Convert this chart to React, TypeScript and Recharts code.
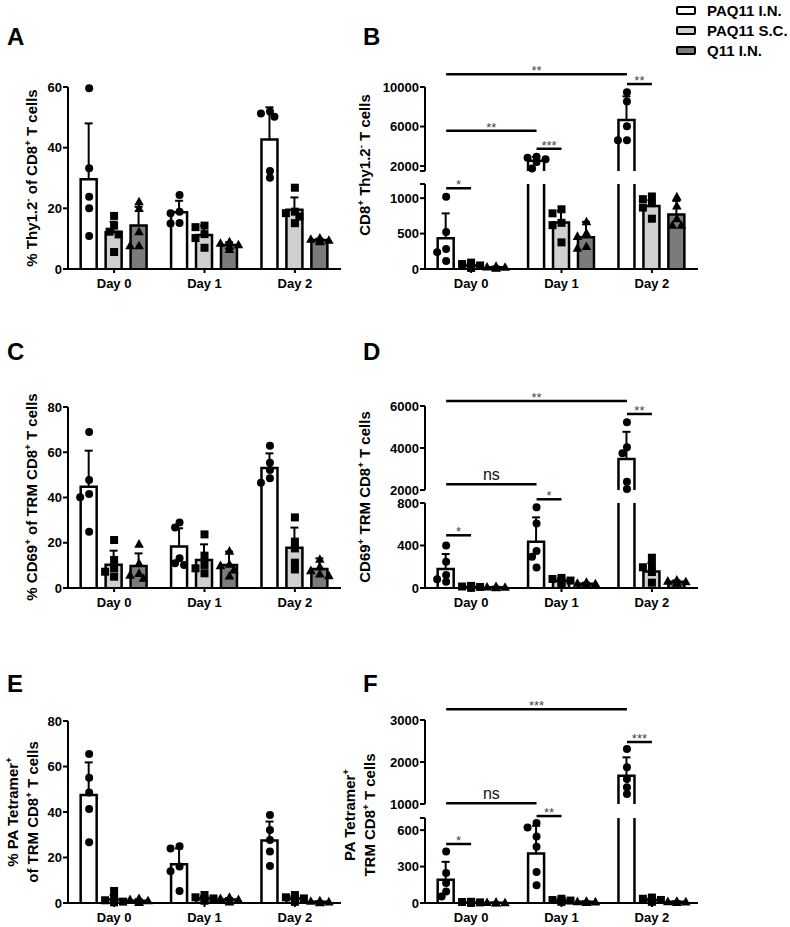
import React from 'react';
import { ComposedChart, Bar, Scatter, XAxis, YAxis, ReferenceLine } from 'recharts';

const FONT = '"Liberation Sans", Arial, Helvetica, sans-serif';

const DAYS = ['Day 0', 'Day 1', 'Day 2'];
const GROUPS = ['PAQ11 I.N.', 'PAQ11 S.C.', 'Q11 I.N.'];
const FILLS = ['#ffffff', '#d0d0d0', '#7b7b7b'];

// means / SD as [day][group], mice as [day][group][mouse]
const A_MEAN = [[29.6, 12.1, 14.3], [18.7, 11.2, 7.9], [42.7, 19.5, 9.6]];
const A_SD = [[18.4, 3.5, 6.2], [3.8, 3.1, 0.9], [10.6, 4.1, 0.4]];
const A_PTS = [
  [[59.6, 33.2, 23.8, 20.0, 10.9], [17.5, 14.3, 12.3, 11.4, 5.6], [22.2, 20.0, 12.3, 7.7, 7.7]],
  [[24.4, 18.9, 18.4, 15.2, 15.0], [14.3, 13.8, 11.5, 10.2, 7.0], [9.0, 8.5, 8.0, 7.5, 6.5]],
  [[51.9, 51.3, 50.2, 32.3, 30.1], [26.8, 18.9, 18.4, 17.3, 15.1], [10.2, 9.8, 9.5, 9.3, 9.0]],
];

const B_MEAN = [[435, 50, 25], [2540, 655, 450], [6650, 890, 771]];
const B_SD = [[350, 25, 10], [380, 165, 215], [2400, 80, 190]];
const B_PTS = [
  [[1019, 524, 281, 238, 114], [90, 70, 50, 30, 15], [40, 30, 25, 18, 12]],
  [[2950, 2850, 2700, 2400, 1750], [843, 786, 652, 619, 376], [667, 510, 462, 319, 295]],
  [[9467, 8533, 6033, 4600, 4600], [1024, 986, 929, 867, 710], [1019, 890, 710, 619, 619]],
];

const C_MEAN = [[44.8, 10.3, 9.7], [18.3, 12.4, 10.2], [53.0, 17.8, 8.4]];
const C_SD = [[15.9, 6.2, 5.6], [8.1, 6.9, 5.9], [6.5, 8.9, 4.7]];
const C_PTS = [
  [[68.9, 47.7, 41.5, 40.1, 24.9], [21.2, 12.4, 8.7, 7.2, 5.0], [19.4, 10.9, 6.5, 5.7, 4.3]],
  [[28.9, 26.7, 13.1, 10.9, 10.2], [23.7, 14.3, 10.2, 8.7, 6.5], [16.3, 10.5, 9.9, 8.0, 5.3]],
  [[62.9, 55.4, 52.1, 48.5, 46.5], [31.2, 20.5, 17.5, 11.2, 8.2], [12.7, 9.4, 7.7, 6.2, 5.5]],
];

const D_MEAN = [[179, 10, 8], [436, 69, 40], [3480, 155, 60]];
const D_SD = [[141, 6, 5], [229, 22, 10], [1290, 80, 12]];
const D_PTS = [
  [[401, 248, 122, 82, 60], [20, 14, 10, 5, 3], [15, 10, 8, 5, 3]],
  [[759, 608, 348, 295, 194], [95, 85, 70, 55, 40], [55, 45, 40, 35, 25]],
  [[5222, 4032, 3746, 2397, 2048], [285, 215, 195, 150, 50], [75, 65, 60, 50, 45]],
];

const E_MEAN = [[47.5, 1.5, 1.0], [17.0, 2.0, 1.5], [27.5, 2.0, 0.5]];
const E_SD = [[14.3, 2.0, 0.7], [7.0, 1.0, 0.7], [8.3, 1.0, 0.3]];
const E_PTS = [
  [[65.5, 55.1, 48.6, 41.3, 26.7], [5.3, 2.3, 1.2, 0.6, 0.3], [2.0, 1.5, 1.0, 0.5, 0.3]],
  [[25.0, 24.0, 16.0, 14.0, 5.3], [3.5, 2.5, 2.0, 1.5, 1.0], [2.5, 2.0, 1.5, 1.0, 0.5]],
  [[38.7, 32.1, 27.7, 22.6, 16.3], [3.5, 2.5, 2.0, 1.5, 0.5], [1.0, 0.8, 0.5, 0.3, 0.2]],
];

const F_MEAN = [[192, 5, 3], [408, 20, 10], [1675, 25, 10]];
const F_SD = [[147, 3, 2], [228, 10, 5], [436, 12, 5]];
const F_PTS = [
  [[425, 247, 164, 94, 53], [10, 8, 5, 3, 2], [6, 4, 3, 2, 1]],
  [[658, 622, 547, 464, 256, 147], [35, 25, 20, 15, 10], [15, 12, 10, 8, 5]],
  [[2310, 1873, 1595, 1397, 1238], [45, 35, 25, 15, 10], [15, 12, 10, 8, 5]],
];

// significance bars: [fromDay, fromGroup, toDay, toGroup, y, text]
const B_SIG_TOP = [[0, 0, 2, 0, 11300, '**'], [2, 0, 2, 1, 10300, '**'], [0, 0, 1, 0, 5580, '**'], [1, 0, 1, 1, 3750, '***']];
const B_SIG_LOW = [[0, 0, 0, 1, 1140, '*']];
const D_SIG_TOP = [[0, 0, 2, 0, 6240, '**'], [2, 0, 2, 1, 5620, '**'], [0, 0, 1, 0, 2270, 'ns']];
const D_SIG_LOW = [[1, 0, 1, 1, 835, '*'], [0, 0, 0, 1, 496, '*']];
const F_SIG_TOP = [[0, 0, 2, 0, 3255, '***'], [2, 0, 2, 1, 2476, '***'], [0, 0, 1, 0, 1017, 'ns']];
const F_SIG_LOW = [[1, 0, 1, 1, 716, '**'], [0, 0, 0, 1, 486, '*']];

// layout
const Y_W = 60;
const PLOT_W = 273;
const MR = 10;
const MT = 40;
const MB = 12;
const XH = 30;
const X_DOMAIN = [-0.51, 2.51];
const SUB = 0.276;
const PX_PER_X = PLOT_W / (X_DOMAIN[1] - X_DOMAIN[0]);
const xPos = (d: number, g: number) => d + (g - 1) * SUB;

const tickStyle = { fontSize: 13, fontWeight: 700, fill: '#000', fontFamily: FONT };
const axisStroke = { stroke: '#000', strokeWidth: 2 };

const ok = (...v: any[]) => v.every((n) => typeof n === 'number' && Number.isFinite(n));

function barRows(mean: number[][], sd: number[][]) {
  const rows: any[] = [];
  mean.forEach((m, d) => m.forEach((v, g) => rows.push({ x: xPos(d, g), g, mean: v, sd: sd[d][g] })));
  return rows;
}

// simple beeswarm so dots that overlap get pushed sideways
function dotRows(pts: number[][][], g: number, lo: number, hi: number, pxPerY: number) {
  const out: any[] = [];
  pts.forEach((day, d) => {
    const vals = day[g].filter((v) => v >= lo && v <= hi).sort((a, b) => b - a);
    const placed: number[][] = [];
    vals.forEach((v) => {
      const py = v * pxPerY;
      let px = 0;
      for (const k of [0, -1, 1, -2, 2]) {
        if (placed.every((p) => Math.hypot(p[0] - k * 4.5, p[1] - py) >= 6.5)) {
          px = k * 4.5;
          break;
        }
      }
      placed.push([px, py]);
      out.push({ x: xPos(d, g) + px / PX_PER_X, v });
    });
  });
  return out;
}

// bar outline without a bottom edge; no top edge either when the bar runs off the segment
const barShape = (hi: number) => (p: any) => {
  const { x, y, width, height, payload } = p;
  if (!ok(x, y, width, height) || height <= 0) return <g />;
  const b = y + height;
  const open = payload.mean > hi;
  const d = open
    ? `M${x},${b}V${y}M${x + width},${y}V${b}`
    : `M${x},${b}V${y}H${x + width}V${b}`;
  return (
    <g>
      <rect x={x} y={y} width={width} height={height} fill={FILLS[payload.g]} />
      <path d={d} fill="none" stroke="#000" strokeWidth={2.5} />
    </g>
  );
};

const ErrShape = (p: any) => {
  const { x, y, width, height } = p;
  if (!ok(x, y, width, height) || height <= 0) return <g />;
  const cx = x + width / 2;
  return (
    <g stroke="#000" strokeWidth={2}>
      <line x1={cx} x2={cx} y1={y + height} y2={y} />
      <line x1={cx - 4} x2={cx + 4} y1={y} y2={y} />
    </g>
  );
};

const dotShape = (g: number) => (p: any) => {
  const { cx, cy } = p;
  if (!ok(cx, cy)) return <g />;
  if (g === 0) return <circle cx={cx} cy={cy} r={4} fill="#000" />;
  if (g === 1) return <rect x={cx - 4} y={cy - 4} width={8} height={8} fill="#000" />;
  return <path d={`M${cx},${cy - 5}L${cx + 4.8},${cy + 3.6}L${cx - 4.8},${cy + 3.6}Z`} fill="#000" />;
};

interface Seg {
  lo: number;
  hi: number;
  top: number;
  bottom: number;
  ticks: number[];
  labels?: string[];
  showX?: boolean;
  sig?: any[];
}

interface PanelProps {
  axisX: number;
  segs: Seg[];
  mean: number[][];
  sd: number[][];
  pts: number[][][];
}

const Segment: React.FC<{ axisX: number; seg: Seg; rows: any[]; pts: number[][][] }> = ({ axisX, seg, rows, pts }) => {
  const plotH = seg.bottom - seg.top;
  const height = MT + plotH + (seg.showX ? XH : 0) + MB;
  const pxPerY = plotH / (seg.hi - seg.lo);
  const fmt = (v: number) => {
    const i = seg.ticks.indexOf(v);
    return seg.labels ? seg.labels[i] : String(v);
  };
  return (
    <div style={{ position: 'absolute', left: axisX - Y_W, top: seg.top - MT }}>
      <ComposedChart
        width={Y_W + PLOT_W + MR}
        height={height}
        data={rows}
        margin={{ top: MT, right: MR, bottom: MB, left: 0 }}
        style={{ fontFamily: FONT }}
      >
        <XAxis
          type="number"
          dataKey="x"
          domain={X_DOMAIN}
          ticks={[0, 1, 2]}
          interval={0}
          tickFormatter={(v: number) => DAYS[v]}
          hide={!seg.showX}
          height={XH}
          tickSize={4}
          tickMargin={6}
          tick={tickStyle}
          axisLine={axisStroke}
          tickLine={axisStroke}
        />
        <XAxis xAxisId="dx" type="number" dataKey="x" domain={X_DOMAIN} hide />
        <YAxis
          type="number"
          domain={[seg.lo, seg.hi]}
          ticks={seg.ticks}
          interval={0}
          allowDataOverflow
          tickFormatter={fmt}
          width={Y_W}
          tickSize={5}
          tickMargin={1}
          tick={tickStyle}
          axisLine={axisStroke}
          tickLine={axisStroke}
        />
        <YAxis yAxisId="d" type="number" domain={[seg.lo, seg.hi]} hide />
        <Bar dataKey="mean" stackId="s" barSize={16} isAnimationActive={false} shape={barShape(seg.hi)} />
        <Bar dataKey="sd" stackId="s" barSize={16} isAnimationActive={false} shape={ErrShape} />
        {[0, 1, 2].map((g) => (
          <Scatter
            key={g}
            xAxisId="dx"
            yAxisId="d"
            data={dotRows(pts, g, seg.lo, seg.hi, pxPerY)}
            dataKey="v"
            shape={dotShape(g)}
            isAnimationActive={false}
          />
        ))}
        {(seg.sig || []).map((s, i) => {
          const ns = s[5] === 'ns';
          return (
            <ReferenceLine
              key={i}
              segment={[{ x: xPos(s[0], s[1]), y: s[4] }, { x: xPos(s[2], s[3]), y: s[4] }]}
              stroke="#000"
              strokeWidth={2.5}
              ifOverflow="visible"
              label={{
                value: s[5],
                position: 'top',
                offset: ns ? 4 : -1,
                fontSize: ns ? 16 : 13,
                fill: ns ? '#111' : '#444',
                fontFamily: FONT,
              }}
            />
          );
        })}
      </ComposedChart>
    </div>
  );
};

const Panel: React.FC<PanelProps> = ({ axisX, segs, mean, sd, pts }) => {
  const rows = barRows(mean, sd);
  return (
    <>
      {segs.map((seg, i) => (
        <Segment key={i} axisX={axisX} seg={seg} rows={rows} pts={pts} />
      ))}
    </>
  );
};

const Letter: React.FC<{ x: number; y: number; t: string }> = ({ x, y, t }) => (
  <div style={{ position: 'absolute', left: x, top: y, font: `bold 24px ${FONT}`, lineHeight: '24px' }}>{t}</div>
);

const AxisTitle: React.FC<{ cx: number; cy: number; children: React.ReactNode }> = ({ cx, cy, children }) => (
  <div
    style={{
      position: 'absolute',
      left: cx,
      top: cy,
      transform: 'translate(-50%, -50%) rotate(-90deg)',
      whiteSpace: 'nowrap',
      textAlign: 'center',
      font: `bold 15px ${FONT}`,
      lineHeight: '20px',
    }}
  >
    {children}
  </div>
);

const Sup: React.FC<{ children: React.ReactNode }> = ({ children }) => (
  <sup style={{ fontSize: '0.65em', lineHeight: 0 }}>{children}</sup>
);

const Key = () => (
  <div style={{ position: 'absolute', left: 676, top: 0 }}>
    {GROUPS.map((g, i) => (
      <div
        key={g}
        style={{ position: 'absolute', left: 0, top: 10 + i * 20 - 6, height: 12, display: 'flex', alignItems: 'center', whiteSpace: 'nowrap' }}
      >
        <span style={{ display: 'inline-block', width: 16, height: 5, border: '2px solid #000', borderRadius: 2, background: FILLS[i] }} />
        <span style={{ marginLeft: 11, font: `bold 15px ${FONT}` }}>{g}</span>
      </div>
    ))}
  </div>
);

const A_SEGS: Seg[] = [{ lo: 0, hi: 60, top: 87, bottom: 269, ticks: [0, 20, 40, 60], showX: true }];
const B_SEGS: Seg[] = [
  { lo: 1500, hi: 10000, top: 87, bottom: 171, ticks: [1500, 2000, 6000, 10000], labels: ['', '2000', '6000', '10000'], sig: B_SIG_TOP },
  { lo: 0, hi: 1200, top: 184, bottom: 269, ticks: [0, 500, 1000, 1200], labels: ['0', '500', '1000', ''], showX: true, sig: B_SIG_LOW },
];
const C_SEGS: Seg[] = [{ lo: 0, hi: 80, top: 407, bottom: 588, ticks: [0, 20, 40, 60, 80], showX: true }];
const D_SEGS: Seg[] = [
  { lo: 2000, hi: 6000, top: 406, bottom: 490, ticks: [2000, 4000, 6000], sig: D_SIG_TOP },
  { lo: 0, hi: 800, top: 503, bottom: 588, ticks: [0, 400, 800], showX: true, sig: D_SIG_LOW },
];
const E_SEGS: Seg[] = [{ lo: 0, hi: 80, top: 721, bottom: 903, ticks: [0, 20, 40, 60, 80], showX: true }];
const F_SEGS: Seg[] = [
  { lo: 1000, hi: 3000, top: 720, bottom: 804, ticks: [1000, 2000, 3000], sig: F_SIG_TOP },
  { lo: 0, hi: 700, top: 818, bottom: 903, ticks: [0, 300, 600, 700], labels: ['0', '300', '600', ''], showX: true, sig: F_SIG_LOW },
];

export default function App() {
  return (
    <div style={{ position: 'absolute', left: 0, top: 0, width: 790, height: 927, background: '#fff', color: '#000', fontFamily: FONT }}>
      <Letter x={7} y={25} t="A" />
      <Letter x={363} y={25} t="B" />
      <Letter x={7} y={340} t="C" />
      <Letter x={363} y={340} t="D" />
      <Letter x={7} y={672} t="E" />
      <Letter x={363} y={672} t="F" />
      <Key />

      <Panel axisX={68} segs={A_SEGS} mean={A_MEAN} sd={A_SD} pts={A_PTS} />
      <Panel axisX={425} segs={B_SEGS} mean={B_MEAN} sd={B_SD} pts={B_PTS} />
      <Panel axisX={68} segs={C_SEGS} mean={C_MEAN} sd={C_SD} pts={C_PTS} />
      <Panel axisX={425} segs={D_SEGS} mean={D_MEAN} sd={D_SD} pts={D_PTS} />
      <Panel axisX={68} segs={E_SEGS} mean={E_MEAN} sd={E_SD} pts={E_PTS} />
      <Panel axisX={425} segs={F_SEGS} mean={F_MEAN} sd={F_SD} pts={F_PTS} />

      <AxisTitle cx={32} cy={178}>
        % Thy1.2<Sup>-</Sup> of CD8<Sup>+</Sup> T cells
      </AxisTitle>
      <AxisTitle cx={365} cy={165}>
        CD8<Sup>+</Sup> Thy1.2<Sup>-</Sup> T cells
      </AxisTitle>
      <AxisTitle cx={32} cy={497}>
        % CD69<Sup>+</Sup> of TRM CD8<Sup>+</Sup> T cells
      </AxisTitle>
      <AxisTitle cx={365} cy={497}>
        CD69<Sup>+</Sup> TRM CD8<Sup>+</Sup> T cells
      </AxisTitle>
      <AxisTitle cx={23} cy={812}>
        % PA Tetramer<Sup>+</Sup>
        <br />
        of TRM CD8<Sup>+</Sup> T cells
      </AxisTitle>
      <AxisTitle cx={360} cy={815}>
        PA Tetramer<Sup>+</Sup>
        <br />
        TRM CD8<Sup>+</Sup> T cells
      </AxisTitle>
    </div>
  );
}
